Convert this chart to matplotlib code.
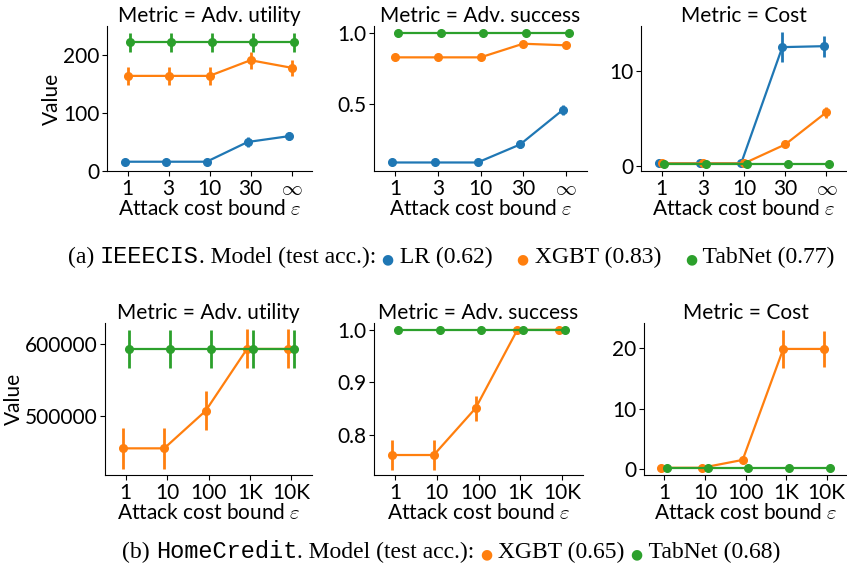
import matplotlib
matplotlib.use("Agg")
import matplotlib.pyplot as plt
import numpy as np

plt.rcParams['font.family'] = ['Lato', 'DejaVu Sans']
plt.rcParams['mathtext.fontset'] = 'cm'

# ---- data: IEEECIS (top row) ----
eps_a = ['1', '3', '10', '30', r'$\infty$']
models_a = ['LR', 'XGBT', 'TabNet']
colors_a = ['#1f77b4', '#ff7f0e', '#2ca02c']

util_a = [[16, 16, 16, 50, 60],
          [164, 164, 164, 191, 178],
          [222, 222, 222, 222, 222]]
util_a_err = [[4, 4, 4, 8, 7],
              [15, 15, 15, 15, 14],
              [16, 16, 16, 16, 16]]
succ_a = [[0.085, 0.085, 0.085, 0.212, 0.455],
          [0.826, 0.826, 0.826, 0.922, 0.911],
          [1.0, 1.0, 1.0, 1.0, 1.0]]
succ_a_err = [[0.006, 0.006, 0.006, 0.027, 0.035],
              [0.012, 0.012, 0.012, 0.01, 0.01],
              [0, 0, 0, 0, 0]]
cost_a = [[0.3, 0.3, 0.3, 12.57, 12.67],
          [0.3, 0.3, 0.3, 2.3, 5.7],
          [0.2, 0.2, 0.2, 0.2, 0.2]]
cost_a_err = [[0.05, 0.05, 0.05, 1.6, 1.1],
              [0.05, 0.05, 0.05, 0.3, 0.6],
              [0, 0, 0, 0, 0]]

# ---- data: HomeCredit (bottom row) ----
eps_b = ['1', '10', '100', '1K', '10K']
models_b = ['XGBT', 'TabNet']
colors_b = ['#ff7f0e', '#2ca02c']

util_b = [[455000, 455000, 507000, 593000, 593000],
          [593000, 593000, 593000, 593000, 593000]]
util_b_err = [[28000, 28000, 27000, 27000, 27000],
              [26000, 26000, 26000, 26000, 26000]]
succ_b = [[0.762, 0.762, 0.851, 1.0, 1.0],
          [1.0, 1.0, 1.0, 1.0, 1.0]]
succ_b_err = [[0.028, 0.028, 0.024, 0, 0],
              [0, 0, 0, 0, 0]]
cost_b = [[0.2, 0.2, 1.5, 19.9, 19.9],
          [0.2, 0.2, 0.2, 0.2, 0.2]]
cost_b_err = [[0.05, 0.05, 0.2, 3.1, 3.0],
              [0, 0, 0, 0, 0]]

W, H = 847, 568
fig = plt.figure(figsize=(W / 100, H / 100), dpi=100)
FS = 15


def rect(l, r, t, b):
    return [l / W, 1 - b / H, (r - l) / W, (b - t) / H]


def panel(pos, labels, vals, errs, colors, title, ylim, yticks, ylabel_x=None):
    ax = fig.add_axes(pos)
    n = len(vals)
    x = np.arange(len(labels))
    offs = np.linspace(-0.07, 0.07, n) if n > 1 else [0]
    for v, e, c, o in zip(vals, errs, colors, offs):
        ax.errorbar(x + o, v, yerr=e, fmt='-o', color=c, lw=1.6, ms=5.5,
                    elinewidth=2, capsize=0)
    ax.set_xlim(-0.5, len(labels) - 0.5)
    ax.set_xticks(x)
    ax.set_xticklabels(labels)
    ax.set_ylim(*ylim)
    ax.set_yticks(yticks)
    ax.set_title(title, fontsize=FS, pad=3)
    ax.set_xlabel(r'Attack cost bound $\varepsilon$', fontsize=FS, labelpad=0)
    if ylabel_x is not None:
        ax.set_ylabel('Value', fontsize=FS, va='center')
        ax.yaxis.set_label_coords(ylabel_x, 0.5)
    ax.tick_params(labelsize=FS, pad=2)
    ax.spines['top'].set_visible(False)
    ax.spines['right'].set_visible(False)
    return ax


panel(rect(107, 312, 26, 171), eps_a, util_a, util_a_err, colors_a,
      'Metric = Adv. utility', (0, 250), [0, 100, 200], -0.27)
panel(rect(374, 587, 26, 171), eps_a, succ_a, succ_a_err, colors_a,
      'Metric = Adv. success', (0.025, 1.047), [0.5, 1.0])
panel(rect(641, 847, 26, 171), eps_a, cost_a, cost_a_err, colors_a,
      'Metric = Cost', (-0.5, 14.8), [0, 10])

panel(rect(105, 312, 323, 475), eps_b, util_b, util_b_err, colors_b,
      'Metric = Adv. utility', (418000, 629000), [500000, 600000], -0.44)
panel(rect(374, 583, 323, 475), eps_b, succ_b, succ_b_err, colors_b,
      'Metric = Adv. success', (0.724, 1.013), [0.8, 0.9, 1.0])
panel(rect(644, 847, 323, 475), eps_b, cost_b, cost_b_err, colors_b,
      'Metric = Cost', (-1.0, 24.2), [0, 10, 20])


def caption(y, pieces, center=451):
    # pieces: (text, family, color, fontsize, gap_before_px); one baseline
    fig.canvas.draw()
    r = fig.canvas.get_renderer()
    texts = []
    x = 0.0
    for txt, fam, col, fs, gap in pieces:
        x += gap
        t = fig.text(x / W, y, txt, fontsize=fs, family=fam, color=col,
                     va='baseline', ha='left')
        w = t.get_window_extent(r).width
        texts.append((t, x))
        x += w
    shift = center - x / 2
    for t, xx in texts:
        t.set_x((xx + shift) / W)


serif = 'Liberation Serif'
mono = 'Liberation Mono'
dot = '\u25cf'
CF = 17
caption(1 - 263 / H, [
    ('(a) ', serif, 'black', CF, 0),
    ('IEEECIS', mono, 'black', CF, 0),
    ('. Model (test acc.): ', serif, 'black', CF, 0),
    (dot, 'DejaVu Sans', colors_a[0], 10, 0),
    (' LR (0.62)', serif, 'black', CF, 0),
    (dot, 'DejaVu Sans', colors_a[1], 10, 24),
    (' XGBT (0.83)', serif, 'black', CF, 0),
    (dot, 'DejaVu Sans', colors_a[2], 10, 24),
    (' TabNet (0.77)', serif, 'black', CF, 0),
])
caption(1 - 558 / H, [
    ('(b) ', serif, 'black', CF, 0),
    ('HomeCredit', mono, 'black', CF, 0),
    ('. Model (test acc.): ', serif, 'black', CF, 0),
    (dot, 'DejaVu Sans', colors_b[0], 10, 0),
    (' XGBT (0.65) ', serif, 'black', CF, 0),
    (dot, 'DejaVu Sans', colors_b[1], 10, 0),
    (' TabNet (0.68)', serif, 'black', CF, 0),
])

fig.savefig('out.png', dpi=100)
